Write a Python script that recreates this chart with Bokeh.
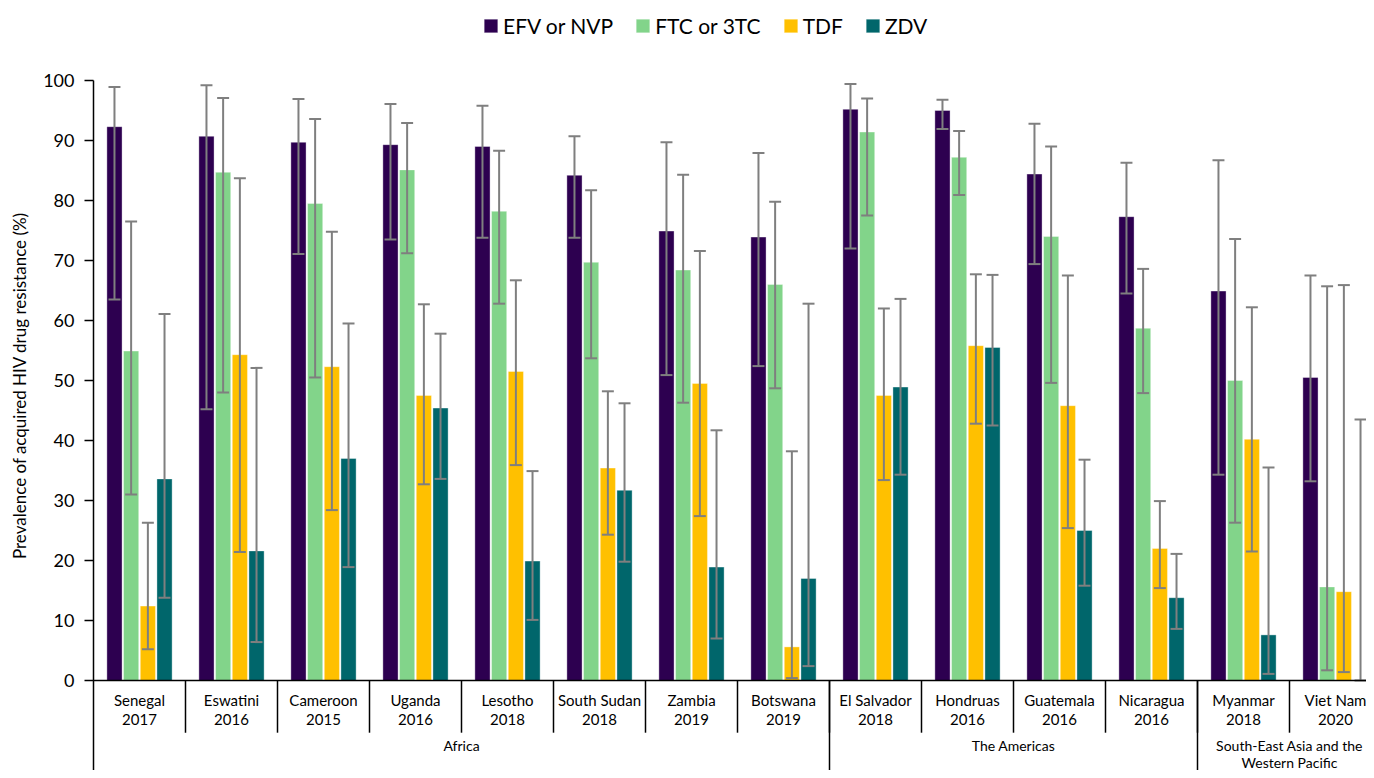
from bokeh.plotting import figure
from bokeh.models import Range1d, FixedTicker, Legend, LegendItem, ColumnDataSource
from bokeh.core.properties import value
from bokeh.embed import file_html
from bokeh.resources import INLINE

# ---------------- data ----------------
countries = ["Senegal", "Eswatini", "Cameroon", "Uganda", "Lesotho", "South Sudan", "Zambia",
             "Botswana", "El Salvador", "Hondruas", "Guatemala", "Nicaragua", "Myanmar", "Viet Nam"]
years = ["2017", "2016", "2015", "2016", "2018", "2018", "2019",
         "2019", "2018", "2016", "2016", "2016", "2018", "2020"]
regions = ["Africa", "The Americas", "South-East Asia and the\nWestern Pacific"]
region_sizes = [8, 4, 2]

series = ["EFV or NVP", "FTC or 3TC", "TDF", "ZDV"]

efv = [92.3, 90.7, 89.7, 89.3, 89.0, 84.2, 74.9, 73.9, 95.2, 95.0, 84.4, 77.3, 64.9, 50.5]
efv_lo = [63.5, 45.2, 71.1, 73.5, 73.8, 73.8, 50.9, 52.4, 72.0, 91.9, 69.4, 64.5, 34.3, 33.2]
efv_hi = [98.9, 99.2, 96.9, 96.1, 95.8, 90.7, 89.7, 87.9, 99.4, 96.8, 92.8, 86.3, 86.7, 67.5]

ftc = [54.9, 84.7, 79.5, 85.1, 78.2, 69.7, 68.4, 66.0, 91.4, 87.2, 74.0, 58.7, 50.0, 15.6]
ftc_lo = [31.0, 48.0, 50.5, 71.2, 62.8, 53.7, 46.3, 48.7, 77.5, 80.9, 49.6, 47.9, 26.3, 1.7]
ftc_hi = [76.5, 97.1, 93.6, 92.9, 88.3, 81.7, 84.3, 79.8, 97.0, 91.6, 89.0, 68.6, 73.6, 65.7]

tdf = [12.4, 54.3, 52.3, 47.5, 51.5, 35.4, 49.5, 5.6, 47.5, 55.8, 45.8, 22.0, 40.2, 14.8]
tdf_lo = [5.2, 21.4, 28.4, 32.7, 35.9, 24.3, 27.4, 0.4, 33.4, 42.8, 25.4, 15.4, 21.5, 1.4]
tdf_hi = [26.3, 83.7, 74.8, 62.7, 66.7, 48.2, 71.6, 38.2, 62.0, 67.7, 67.5, 29.9, 62.2, 65.9]

zdv = [33.6, 21.6, 37.0, 45.4, 19.9, 31.7, 18.9, 17.0, 48.9, 55.5, 25.0, 13.8, 7.6, 0.0]
zdv_lo = [13.8, 6.4, 18.9, 33.6, 10.1, 19.8, 7.0, 2.4, 34.3, 42.5, 15.8, 8.6, 1.1, 0.0]
zdv_hi = [61.1, 52.1, 59.5, 57.8, 34.9, 46.2, 41.7, 62.8, 63.6, 67.6, 36.8, 21.1, 35.5, 43.5]

yticks = [0, 10, 20, 30, 40, 50, 60, 70, 80, 90, 100]

# ---------------- styles ----------------
colors = ["#2D0050", "#82D48A", "#FFC000", "#00666B"]
FONT = "Lato"
offsets = [-0.272, -0.091, 0.091, 0.272]
bar_w = 0.165
cap = 0.065
err_color = "#7F7F7F"
Y_MIN, Y_MAX = -15.0, 113.33

p = figure(width=1366, height=770, x_range=Range1d(0, 13.837), y_range=Range1d(Y_MIN, Y_MAX),
           x_axis_type=None, output_backend="svg", toolbar_location=None,
           min_border_left=93, min_border_right=0, min_border_top=0, min_border_bottom=0)
p.outline_line_color = None
p.ygrid.visible = False
p.background_fill_color = "white"

ax = p.yaxis[0]
ax.ticker = FixedTicker(ticks=yticks)
ax.bounds = (Y_MIN, 100)
ax.minor_tick_line_color = None
ax.major_tick_in = 0
ax.major_tick_out = 9
ax.axis_line_color = "black"
ax.axis_line_width = 1.5
ax.major_tick_line_color = "black"
ax.major_tick_line_width = 1.5
ax.major_label_text_font = FONT
ax.major_label_text_font_size = "18px"
ax.major_label_text_color = "black"
ax.major_label_standoff = 10
ax.axis_label = "Prevalence of acquired HIV drug resistance (%)"
ax.axis_label_text_font = FONT
ax.axis_label_text_font_size = "17px"
ax.axis_label_text_font_style = "normal"
ax.axis_label_text_color = "black"
ax.axis_label_standoff = 10

all_vals = [efv, ftc, tdf, zdv]
all_lo = [efv_lo, ftc_lo, tdf_lo, zdv_lo]
all_hi = [efv_hi, ftc_hi, tdf_hi, zdv_hi]

items = []
n = len(countries)
for k in range(4):
    xs = [i + 0.5 + offsets[k] for i in range(n)]
    src = ColumnDataSource(dict(x=xs, top=all_vals[k]))
    r = p.vbar(x="x", top="top", bottom=0, width=bar_w, source=src,
               fill_color=colors[k], line_color="white", line_width=0.6, line_alpha=0.6)
    items.append(LegendItem(label=series[k], renderers=[r]))
for k in range(4):
    xs = [i + 0.5 + offsets[k] for i in range(n)]
    src = ColumnDataSource(dict(x=xs, lo=all_lo[k], hi=all_hi[k],
                                xl=[x - cap for x in xs], xr=[x + cap for x in xs]))
    p.segment(x0="x", y0="lo", x1="x", y1="hi", source=src, line_color=err_color, line_width=2)
    p.segment(x0="xl", y0="lo", x1="xr", y1="lo", source=src, line_color=err_color, line_width=2)
    p.segment(x0="xl", y0="hi", x1="xr", y1="hi", source=src, line_color=err_color, line_width=2)

# baseline
p.segment(x0=[0], y0=[0], x1=[n], y1=[0], line_color="black", line_width=1.5)

# category separators
cat_b = list(range(1, n + 1))
p.segment(x0=cat_b, y0=[0] * len(cat_b), x1=cat_b, y1=[-8.7] * len(cat_b),
          line_color="black", line_width=1.5)
grp_b = []
acc = 0
for s in region_sizes:
    acc += s
    grp_b.append(acc)
p.segment(x0=grp_b, y0=[0] * len(grp_b), x1=grp_b, y1=[Y_MIN] * len(grp_b),
          line_color="black", line_width=1.5)

# category labels
p.text(x=[i + 0.5 for i in range(n)], y=[-1.75] * n,
       text=[c + "\n" + y for c, y in zip(countries, years)],
       text_font=value(FONT), text_font_size="15px", text_align="center", text_baseline="top",
       text_color="black", text_line_height=1.05)

# region labels
starts = [0]
for s in region_sizes[:-1]:
    starts.append(starts[-1] + s)
rx = [st + s / 2 for st, s in zip(starts, region_sizes)]
p.text(x=rx, y=[-9.35] * len(regions), text=regions,
       text_font=value(FONT), text_font_size="14px", text_align="center", text_baseline="top",
       text_color="black", text_line_height=1.0)

legend = Legend(items=items, orientation="horizontal", location=(389, 732),
                label_text_font=FONT, label_text_font_size="21px", label_text_color="black",
                glyph_width=17, glyph_height=17, label_standoff=4, spacing=21,
                border_line_color=None, background_fill_alpha=0, padding=0, margin=0)
p.add_layout(legend, "center")

open("out.html", "w").write(file_html(p, INLINE))
